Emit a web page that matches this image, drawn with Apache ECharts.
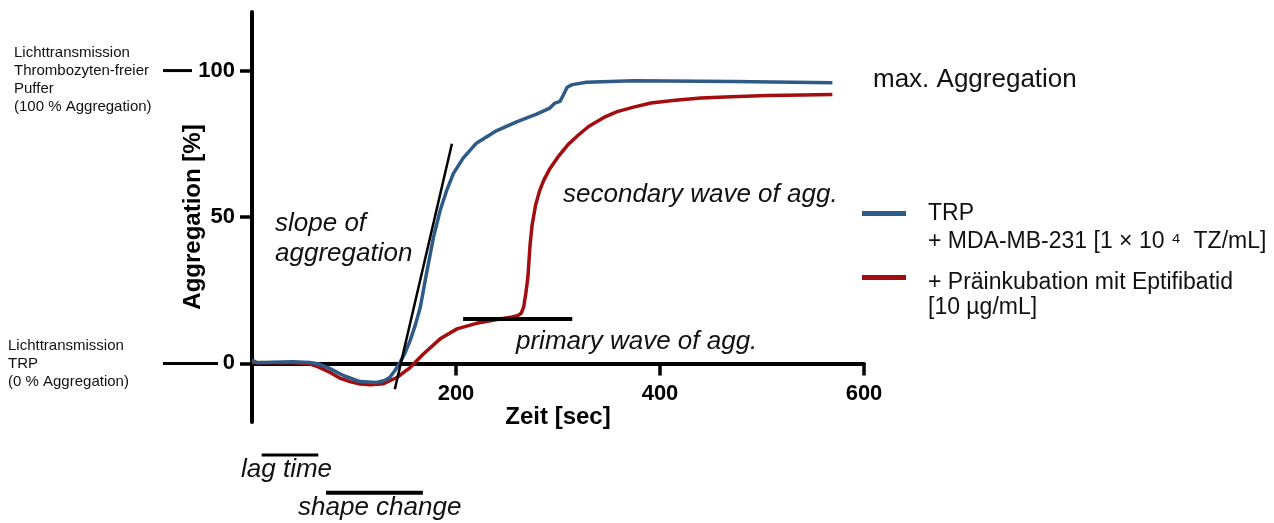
<!DOCTYPE html>
<html><head><meta charset="utf-8">
<script src="https://cdn.jsdelivr.net/npm/echarts@6/dist/echarts.min.js"></script>
<style>html,body{margin:0;padding:0;background:#fff}#c{width:1274px;height:523px}</style>
</head><body><div id="c"></div>
<script>
// ---- data ----
const timeBlue = [0, 5, 20, 40, 57, 65, 75, 90, 106, 122, 130, 135, 140, 145, 150, 155, 160, 165, 171, 178, 184.5, 191, 197.5, 207, 220, 240, 260, 279, 292, 297, 302, 305, 309, 314, 328, 351, 374, 472, 569];
const aggBlue  = [1.2, 0.2, 0.4, 0.6, 0.3, -0.2, -1.5, -4.2, -6.2, -6.5, -5.8, -4.8, -2.5, 0.3, 3.5, 7.8, 13, 19.2, 30.6, 43.2, 52.3, 59.2, 64.9, 70.1, 75.2, 79.5, 82.6, 85.1, 87.2, 88.9, 89.5, 91.5, 94.3, 95.2, 96.0, 96.3, 96.5, 96.3, 95.8];
const timeRed  = [0, 20, 40, 57, 65, 76.5, 86, 96, 106, 116, 129, 142, 155, 168, 184.5, 201, 220, 243, 255, 261, 264, 266.3, 268.5, 270.5, 272.5, 274.5, 278, 282, 286, 292, 300, 310, 320, 330, 345, 358, 375, 391, 415, 440, 470, 505, 540, 569];
const aggRed   = [0.3, 0.2, 0.2, -0.2, -1.2, -3.1, -5, -6.2, -7, -7.3, -6.9, -4.8, -1.4, 3.2, 8.4, 11.8, 13.7, 15.2, 15.9, 16.4, 17.2, 19.2, 24, 29.5, 40, 47, 54, 59, 62.5, 66.5, 70.5, 74.8, 78, 80.9, 84, 86, 87.6, 88.9, 89.9, 90.6, 91.1, 91.5, 91.7, 91.8];
const xTicks = [200, 400, 600];
const yTicks = [0, 50, 100];
const slopeX = [140, 196],   slopeY = [-8.8, 75];
const primaryX = [207, 314], primaryY = [15.2, 15.2];
const lagX = [9.5, 65],      lagY = [-31.3, -31.3];
const shapeX = [72.6, 167.5], shapeY = [-44.2, -44.2];
const nameBlue = 'TRP + MDA-MB-231 [1 × 10⁴ TZ/mL]';
const nameRed = '+ Präinkubation mit Eptifibatid [10 µg/mL]';

const BLUE = '#2e5a87', RED = '#a30d0f';
const FF = "Arial, 'Liberation Sans', sans-serif";
const pairs = (xs, ys) => xs.map((x, i) => [x, ys[i]]);
const GRID_BOTTOM = 101, H = 523;

const chart = echarts.init(document.getElementById('c'), null, {renderer: 'canvas'});
const option = {
  animation: false,
  backgroundColor: '#fff',
  grid: {left: 252, right: 410, top: 12, bottom: GRID_BOTTOM, containLabel: false, outerBoundsMode: 'none'},
  xAxis: {
    type: 'value', min: 0, max: 600,
    name: 'Zeit [sec]', nameLocation: 'middle', nameGap: 42, nameMoveOverlap: false,
    nameTextStyle: {fontFamily: FF, fontSize: 24, fontWeight: 'bold', color: '#000'},
    axisLine: {onZero: false, lineStyle: {color: '#000', width: 4}},
    axisTick: {length: 12, lineStyle: {color: '#000', width: 3.5}, customValues: xTicks},
    axisLabel: {margin: 20, fontFamily: FF, fontSize: 22, fontWeight: 'bold', color: '#000', customValues: xTicks},
    splitLine: {show: false}
  },
  yAxis: {
    type: 'value', min: -20, max: 120,
    name: 'Aggregation [%]', nameLocation: 'middle', nameGap: 47, nameMoveOverlap: false,
    nameTextStyle: {fontFamily: FF, fontSize: 24, fontWeight: 'bold', color: '#000'},
    axisLine: {onZero: false, lineStyle: {color: '#000', width: 4}},
    axisTick: {length: 12, lineStyle: {color: '#000', width: 3.5}, customValues: yTicks},
    axisLabel: {margin: 17, fontFamily: FF, fontSize: 22, fontWeight: 'bold', color: '#000', customValues: yTicks},
    splitLine: {show: false}
  },
  legend: [
    {
      data: [{name: nameBlue, icon: 'rect'}], left: 862, top: 174, padding: 0,
      itemWidth: 44, itemHeight: 5, selectedMode: false, orient: 'vertical',
      formatter: () => '{s| }\n{t|TRP}\n{t|+ MDA-MB-231 [1 × 10 ⁴  TZ/mL]}',
      textStyle: {rich: {
        s: {fontSize: 23, lineHeight: 28, fontFamily: FF},
        t: {fontSize: 23, lineHeight: 28, fontFamily: FF, color: '#111', padding: [0, 0, 0, 17]}
      }}
    },
    {
      data: [{name: nameRed, icon: 'rect'}], left: 862, top: 241, padding: 0,
      itemWidth: 44, itemHeight: 5, selectedMode: false, orient: 'vertical',
      formatter: () => '{s| }\n{t|+ Präinkubation mit Eptifibatid}\n{t|[10 µg/mL]}',
      textStyle: {rich: {
        s: {fontSize: 23, lineHeight: 36, fontFamily: FF},
        t: {fontSize: 23, lineHeight: 25, fontFamily: FF, color: '#111', padding: [0, 0, 0, 17]}
      }}
    }
  ],
  series: [
    {name: nameRed, type: 'line', data: pairs(timeRed, aggRed), showSymbol: false, symbol: 'none',
     lineStyle: {color: RED, width: 3.5}, itemStyle: {color: RED}, z: 2, silent: true},
    {name: nameBlue, type: 'line', data: pairs(timeBlue, aggBlue), showSymbol: false, symbol: 'none',
     lineStyle: {color: BLUE, width: 3.5}, itemStyle: {color: BLUE}, z: 3, silent: true},
    {type: 'line', data: pairs(slopeX, slopeY), symbol: 'none', clip: false, silent: true, z: 4,
     lineStyle: {color: '#000', width: 2.5}},
    {type: 'line', data: pairs(primaryX, primaryY), symbol: 'none', clip: false, silent: true, z: 4,
     lineStyle: {color: '#000', width: 4}},
    {type: 'line', data: pairs(lagX, lagY), symbol: 'none', clip: false, silent: true, z: 4,
     lineStyle: {color: '#000', width: 3}},
    {type: 'line', data: pairs(shapeX, shapeY), symbol: 'none', clip: false, silent: true, z: 4,
     lineStyle: {color: '#000', width: 4}}
  ]
};
chart.setOption(option);

const y100 = chart.convertToPixel({yAxisIndex: 0}, 100);
const y0 = chart.convertToPixel({yAxisIndex: 0}, 0);
// put the x axis (line, ticks, labels, name) on the y = 0 line
chart.setOption({xAxis: {offset: y0 - (H - GRID_BOTTOM)}});

const txt = (text, x, y, font, extra) => Object.assign({
  type: 'text', silent: true,
  style: Object.assign({text, x, y, font, fill: '#111', verticalAlign: 'middle', align: 'left'}, extra || {})
});
chart.setOption({
  graphic: [
    {type: 'line', silent: true, shape: {x1: 163, y1: y100, x2: 192, y2: y100}, style: {stroke: '#000', lineWidth: 3}},
    {type: 'line', silent: true, shape: {x1: 163, y1: y0, x2: 218, y2: y0}, style: {stroke: '#000', lineWidth: 3}},
    txt('Lichttransmission\nThrombozyten-freier\nPuffer\n(100 % Aggregation)', 14, 80, "15px " + FF, {lineHeight: 18}),
    txt('Lichttransmission\nTRP\n(0 % Aggregation)', 8, 363.5, "15px " + FF, {lineHeight: 18}),
    txt('max. Aggregation', 873, 80, "26px " + FF),
    txt('secondary wave of agg.', 563, 195, "italic 26px " + FF),
    txt('slope of\naggregation', 275, 238.5, "italic 26px " + FF, {lineHeight: 30}),
    txt('primary wave of agg.', 516, 341.5, "italic 26px " + FF),
    txt('lag time', 241, 470, "italic 26px " + FF),
    txt('shape change', 298, 508, "italic 26px " + FF)
  ]
});
</script>
</body></html>
